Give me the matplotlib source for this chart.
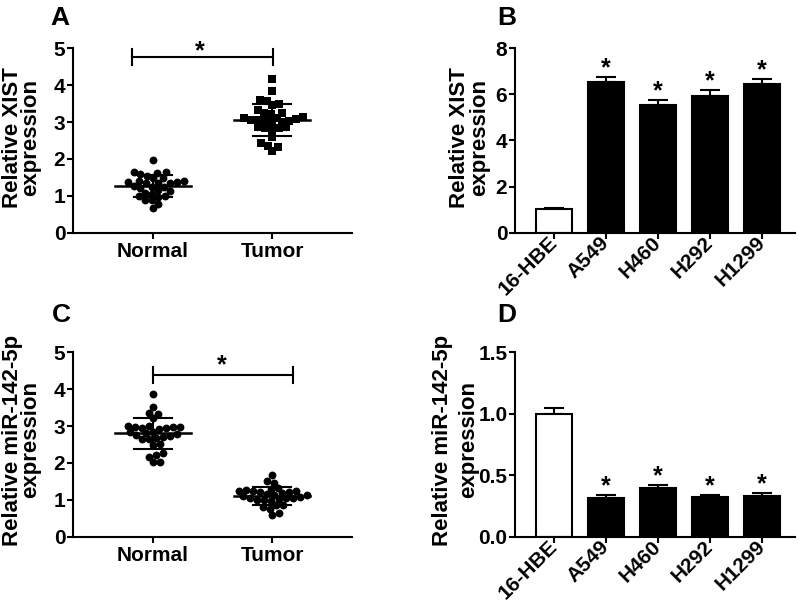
import matplotlib.pyplot as plt
import numpy as np

plt.rcParams['font.family'] = ['Liberation Sans', 'DejaVu Sans']
plt.rcParams['font.weight'] = 'bold'

# panel A / C: tissue samples
groups = ['Normal', 'Tumor']
xist_normal = [1.98, 1.65, 1.64, 1.62, 1.55, 1.48, 1.40, 1.39, 1.38, 1.37,
               1.36, 1.35, 1.34, 1.27, 1.25, 1.24, 1.08, 1.06, 1.00, 0.99,
               0.98, 0.90, 0.88, 0.79, 0.67, 1.47, 1.17, 1.12, 1.20, 1.58]
xist_tumor = [4.16, 3.84, 3.60, 3.58, 3.50, 3.45, 3.33, 3.24, 3.24, 3.22,
              3.13, 3.12, 3.08, 3.05, 3.02, 3.00, 3.00, 3.02, 3.05, 3.10,
              2.86, 2.84, 2.78, 2.84, 2.86, 2.60, 2.42, 2.36, 2.32, 2.22]
mir_normal = [3.86, 3.51, 3.36, 3.34, 3.22, 3.00, 2.98, 2.96, 2.97, 2.99,
              2.95, 2.98, 2.93, 2.85, 2.83, 2.80, 2.78, 2.76, 2.72, 2.70,
              2.68, 2.65, 2.64, 2.52, 2.50, 2.27, 2.22, 2.17, 2.03, 2.02]
mir_tumor = [1.66, 1.52, 1.46, 1.32, 1.30, 1.26, 1.25, 1.24, 1.23, 1.22,
             1.20, 1.18, 1.16, 1.14, 1.12, 1.10, 1.08, 1.06, 1.05, 1.04,
             1.02, 1.00, 0.98, 0.87, 0.86, 0.81, 0.76, 0.65, 0.59, 1.00]

# panel B / D: cell lines
cell_lines = ['16-HBE', 'A549', 'H460', 'H292', 'H1299']
xist_cells = [1.01, 6.55, 5.53, 5.95, 6.45]
xist_cells_err = [0.075, 0.22, 0.23, 0.24, 0.22]
mir_cells = [1.00, 0.317, 0.40, 0.325, 0.33]
mir_cells_err = [0.05, 0.023, 0.02, 0.015, 0.028]

W, H = 799, 600
LW = 1.5
TICK_FS = 15
LABEL_FS = 16
STAR_FS = 18


def style_axis(ax):
    for s in ['top', 'right']:
        ax.spines[s].set_visible(False)
    for s in ['left', 'bottom']:
        ax.spines[s].set_linewidth(LW)
    ax.tick_params(width=LW, length=4, direction='out', labelsize=TICK_FS, pad=1.5)
    for lab in ax.get_yticklabels():
        lab.set_fontweight('bold')


def swarm(ax, x0, values, d=6.5):
    # simple greedy beeswarm in pixel space
    pos = ax.get_position()
    sx = pos.width * W / np.diff(ax.get_xlim())[0]
    sy = pos.height * H / np.diff(ax.get_ylim())[0]
    ys = np.asarray(values) * sy
    offs = np.zeros(len(ys))
    placed = []
    for i in np.argsort(ys):
        k = 0
        found = None
        while found is None:
            cands = [0.0] if k == 0 else [k * 1.0, -k * 1.0]
            for c in cands:
                if all((c - px) ** 2 + (ys[i] - py) ** 2 >= d * d for px, py in placed):
                    found = c
                    break
            k += 1
        placed.append((found, ys[i]))
        offs[i] = found
    return x0 + offs / sx


def ylabel2(line1, line2, x1, x2, yc):
    # two-line rotated label, baselines given in pixels
    for txt, xb in [(line1, x1), (line2, x2)]:
        fig.text(xb / W, 1 - yc / H, txt, rotation=90, rotation_mode='anchor',
                 ha='center', va='baseline', fontsize=LABEL_FS, fontweight='bold')


def scatter_panel(ax, data, markers, yticks):
    ax.set_xlim(0.33, 2.67)
    ax.set_ylim(0, 5)
    for i, (vals, m) in enumerate(zip(data, markers)):
        x0 = i + 1
        xs = swarm(ax, x0, vals)
        ax.scatter(xs, vals, s=32, marker=m, color='black', linewidths=0, zorder=3)
        mean = np.mean(vals)
        sd = np.std(vals, ddof=1)
        ax.plot([x0 - 0.32, x0 + 0.32], [mean, mean], color='black', lw=1.8, zorder=4)
        ax.plot([x0 - 0.16, x0 + 0.16], [mean + sd] * 2, color='black', lw=LW, zorder=4)
        ax.plot([x0 - 0.16, x0 + 0.16], [mean - sd] * 2, color='black', lw=LW, zorder=4)
        ax.plot([x0, x0], [mean - sd, mean + sd], color='black', lw=LW, zorder=4)
    ax.set_xticks([1, 2])
    ax.set_xticklabels(groups, fontsize=TICK_FS, fontweight='bold')
    ax.set_yticks(yticks)
    style_axis(ax)
    ax.tick_params(axis='x', pad=3)


def bar_panel(ax, vals, errs, ylim, yticks, ytick_labels):
    x = np.arange(len(cell_lines))
    colors = ['white'] + ['black'] * (len(cell_lines) - 1)
    ax.bar(x, vals, width=0.69, color=colors, edgecolor='black', linewidth=LW, zorder=2)
    ax.errorbar(x, vals, yerr=[np.zeros(len(vals)), errs], fmt='none', ecolor='black',
                elinewidth=LW, capsize=7.5, capthick=LW, zorder=1)
    ax.set_xlim(-0.75, 4.63)
    ax.set_ylim(*ylim)
    ax.set_yticks(yticks)
    ax.set_yticklabels(ytick_labels)
    ax.set_xticks(x)
    ax.set_xticklabels(cell_lines, rotation=45, ha='right', va='center',
                       rotation_mode='anchor', fontsize=12, fontweight='bold')
    for i in range(1, len(cell_lines)):
        ax.annotate('*', (x[i], vals[i] + errs[i]), xytext=(0, 1),
                    textcoords='offset points', ha='center', va='baseline',
                    fontsize=STAR_FS, fontweight='bold')
    style_axis(ax)
    ax.tick_params(axis='x', pad=1)


def bracket(ax, x1, x2, y, h_lo, h_hi, xs, dy):
    ax.plot([x1, x2], [y, y], color='black', lw=LW, clip_on=False)
    ax.plot([x1, x1], [h_lo, h_hi], color='black', lw=LW, clip_on=False)
    ax.plot([x2, x2], [h_lo, h_hi], color='black', lw=LW, clip_on=False)
    ax.annotate('*', (xs, y), xytext=(0, dy), textcoords='offset points',
                ha='center', va='baseline', fontsize=STAR_FS, fontweight='bold',
                annotation_clip=False)


fig = plt.figure(figsize=(W / 100, H / 100), dpi=100)
axA = fig.add_axes([73 / W, 1 - 232.7 / H, 279 / W, 184.4 / H])
axB = fig.add_axes([515 / W, 1 - 232.7 / H, 280 / W, 184.4 / H])
axC = fig.add_axes([73 / W, 1 - 536.7 / H, 279 / W, 184.4 / H])
axD = fig.add_axes([515 / W, 1 - 536.7 / H, 280 / W, 184.4 / H])

scatter_panel(axA, [xist_normal, xist_tumor], ['o', 's'], [0, 1, 2, 3, 4, 5])
bracket(axA, 0.824, 2.005, 4.76, 4.55, 4.97, 1.395, -1)

scatter_panel(axC, [mir_normal, mir_tumor], ['o', 'o'], [0, 1, 2, 3, 4, 5])
bracket(axC, 1.0, 2.176, 4.385, 4.16, 4.59, 1.576, 2)

bar_panel(axB, xist_cells, xist_cells_err, (0, 8), [0, 2, 4, 6, 8],
          ['0', '2', '4', '6', '8'])
bar_panel(axD, mir_cells, mir_cells_err, (0, 1.5), [0, 0.5, 1.0, 1.5],
          ['0.0', '0.5', '1.0', '1.5'])

ylabel2('Relative XIST', 'expression', 18, 36, 138)
ylabel2('Relative XIST', 'expression', 465, 485, 138)
ylabel2('Relative miR-142-5p', 'expression', 18, 36, 440)
ylabel2('Relative miR-142-5p', 'expression', 448, 474, 440)

for lab, (px, py) in zip('ABCD', [(50, 6), (497, 6), (52, 303), (497, 303)]):
    fig.text(px / W, 1 - py / H, lab, fontsize=19, fontweight='bold', ha='left', va='top')

fig.savefig('out.png', dpi=100)
